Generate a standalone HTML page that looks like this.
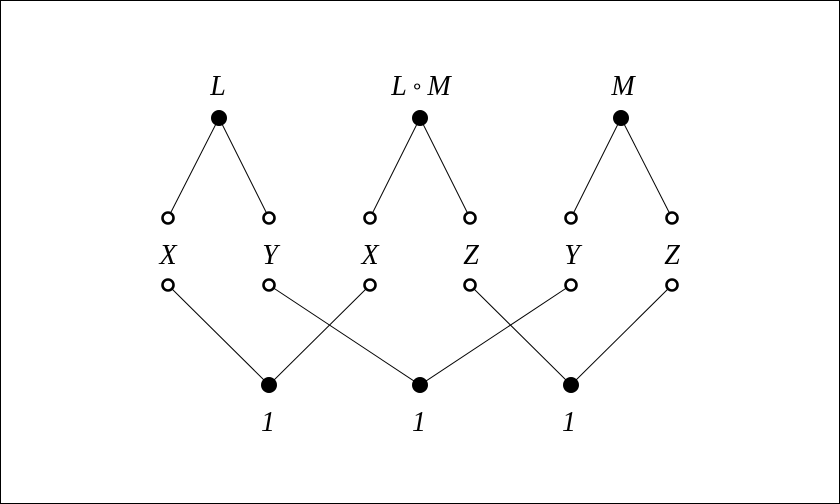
<!DOCTYPE html>
<html><head><style>
html,body{margin:0;padding:0;background:#fff;}
svg{display:block;}
</style></head><body>
<svg width="840" height="504" viewBox="0 0 840 504">
<rect x="0.5" y="0.5" width="839" height="503" fill="#fff" stroke="#000" stroke-width="1"/>
<g stroke="#000" stroke-width="1">
<line x1="219" y1="118" x2="168" y2="218"/><line x1="219" y1="118" x2="269" y2="218"/>
<line x1="420" y1="118" x2="370" y2="218"/><line x1="420" y1="118" x2="470" y2="218"/>
<line x1="621" y1="118" x2="571" y2="218"/><line x1="621" y1="118" x2="672" y2="218"/>
<line x1="168" y1="285" x2="269" y2="385"/><line x1="269" y1="285" x2="420" y2="385"/>
<line x1="370" y1="285" x2="269" y2="385"/><line x1="470" y1="285" x2="571" y2="385"/>
<line x1="571" y1="285" x2="420" y2="385"/><line x1="672" y1="285" x2="571" y2="385"/>
</g>
<g fill="#000">
<circle cx="219" cy="118" r="8"/><circle cx="420" cy="118" r="8"/><circle cx="621" cy="118" r="8"/>
<circle cx="269" cy="385" r="8"/><circle cx="420" cy="385" r="8"/><circle cx="571" cy="385" r="8"/>
</g>
<g fill="#fff" stroke="#000" stroke-width="2.6">
<circle cx="168" cy="218" r="5.5"/><circle cx="269" cy="218" r="5.5"/><circle cx="370" cy="218" r="5.5"/>
<circle cx="470" cy="218" r="5.5"/><circle cx="571" cy="218" r="5.5"/><circle cx="672" cy="218" r="5.5"/>
<circle cx="168" cy="285" r="5.5"/><circle cx="269" cy="285" r="5.5"/><circle cx="370" cy="285" r="5.5"/>
<circle cx="470" cy="285" r="5.5"/><circle cx="571" cy="285" r="5.5"/><circle cx="672" cy="285" r="5.5"/>
</g>
<g font-family="Liberation Serif, Times New Roman, serif" font-style="italic" font-size="28" fill="#000" text-anchor="middle">
<text x="218" y="95" font-family="Liberation Serif">L</text>
<text x="421" y="95" font-family="Liberation Serif">L<tspan font-style="normal" font-size="20" dx="4" dy="-2">∘</tspan><tspan dx="4" dy="2">M</tspan></text>
<text x="623" y="95" font-family="Liberation Serif">M</text>
<text x="168" y="264" font-family="Liberation Serif">X</text><text x="270" y="264" font-family="Liberation Serif">Y</text><text x="370" y="264" font-family="Liberation Serif">X</text>
<text x="471" y="264" font-family="Liberation Serif">Z</text><text x="572" y="264" font-family="Liberation Serif">Y</text><text x="672" y="264" font-family="Liberation Serif">Z</text>
<text x="268" y="431" font-family="Liberation Serif">1</text><text x="419" y="431" font-family="Liberation Serif">1</text><text x="569" y="431" font-family="Liberation Serif">1</text>
</g>
</svg>
</body></html>
